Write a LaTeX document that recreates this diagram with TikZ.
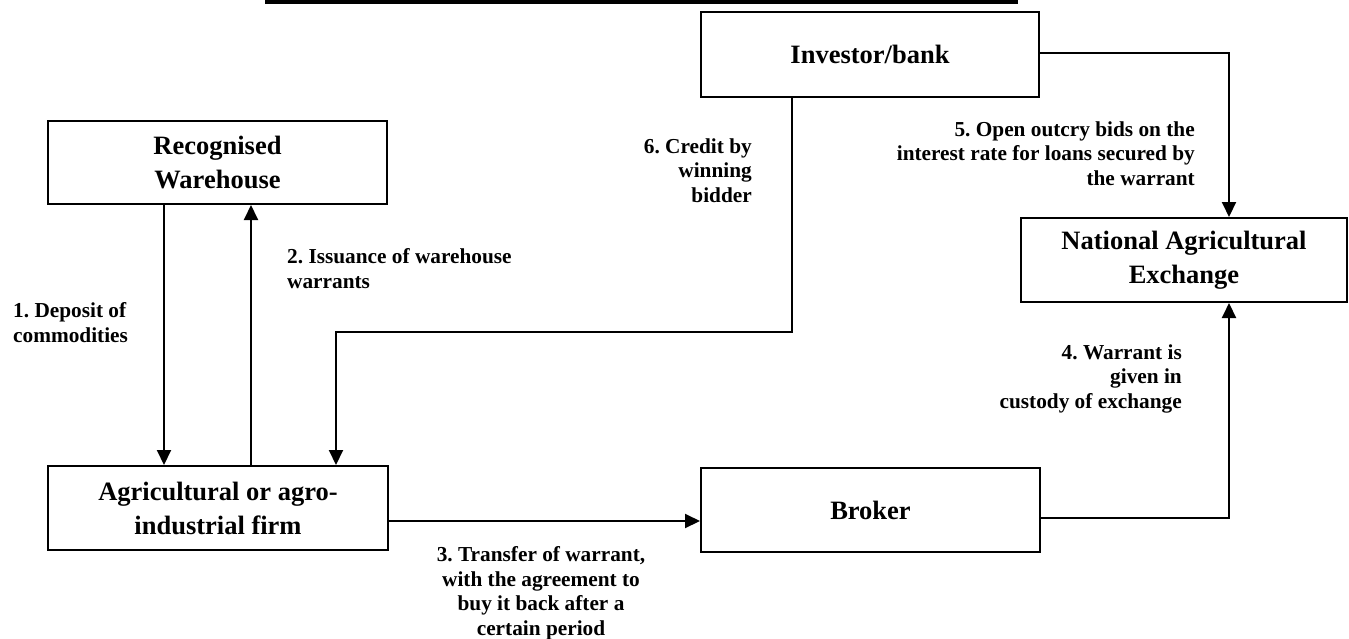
\documentclass[tikz,border=0pt]{standalone}
\usepackage{fontspec}
\setmainfont{Liberation Serif}
\usetikzlibrary{arrows.meta}
\frenchspacing
\begin{document}
\begin{tikzpicture}[x=1pt,y=-1pt,
  box/.style={draw,line width=2pt,align=center,inner sep=0pt,
    font=\fontsize{26.5}{34}\selectfont\bfseries},
  lbl/.style={inner sep=0pt,font=\fontsize{21.3}{24.5}\selectfont\bfseries},
  conn/.style={line width=2pt},
  arr/.style={conn,-{Triangle[length=15pt,width=14pt]}}]
\useasboundingbox (0,0) rectangle (1349,638);
\fill (265,0) rectangle (1018,4);
\node[box,minimum width=339pt,minimum height=83pt] (wh) at (217.5,162.5) {Recognised\\Warehouse};
\node[box,minimum width=340pt,minimum height=84pt] (agro) at (218,508) {Agricultural or agro-\\industrial firm};
\node[box,minimum width=338pt,minimum height=85pt] (inv) at (870,54.5) {Investor/bank};
\node[box,minimum width=339pt,minimum height=84pt] (broker) at (870.5,510) {Broker};
\node[box,minimum width=326pt,minimum height=84pt] (exch) at (1184,260) {National Agricultural\\Exchange};
% connectors
\draw[arr] ([xshift=117pt]wh.south west) -- ([xshift=117pt]agro.north west);
\draw[arr] ([xshift=204pt]agro.north west) -- ([xshift=204pt]wh.south west);
\draw[arr] ([xshift=92pt]inv.south west) -- ++(0,234) -| ([xshift=289pt]agro.north west);
\draw[arr] ([yshift=-13pt]agro.east) -- ([yshift=-13pt]agro.east -| broker.west);
\draw[arr] ([yshift=-8pt]broker.east) -| ([xshift=209pt]exch.south west);
\draw[arr] ([yshift=1.5pt]inv.east) -| ([xshift=209pt]exch.north west);
% labels (base anchor = baseline of last line)
\node[lbl,anchor=base west,align=left] (l1) at (13,342) {1. Deposit of\\commodities};
\node[lbl,anchor=base west,align=left] (l2) at (287,288) {2. Issuance of warehouse\\warrants};
\node[lbl,anchor=base,align=center] (l3) at (541,635) {3. Transfer of warrant,\\with the agreement to\\buy it back after a\\certain period};
\node[lbl,anchor=base east,align=right] (l4) at (1182,408) {4. Warrant is\\given in\\custody of exchange};
\node[lbl,anchor=base east,align=right] (l5) at (1195,185) {5. Open outcry bids on the\\interest rate for loans secured by\\the warrant};
\node[lbl,anchor=base east,align=right] (l6) at (752,202) {6. Credit by\\winning\\bidder};
\end{tikzpicture}
\end{document}
